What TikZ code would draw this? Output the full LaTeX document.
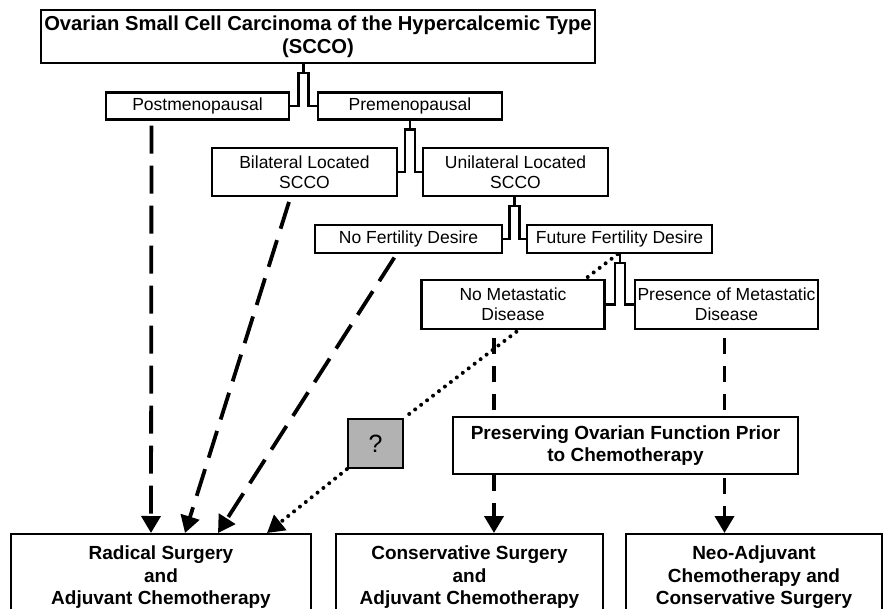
\documentclass[tikz,border=0pt]{standalone}
\usepackage{fontspec}
\setmainfont{Liberation Sans}
\usetikzlibrary{arrows.meta,calc}
\pgfdeclarelayer{bg}
\pgfsetlayers{bg,main}

\tikzset{
  box/.style={draw, line width=2.4pt, fill=white, align=center, inner sep=0pt,
    font=\fontsize{17.5}{20}\selectfont},
  boldbox/.style={box, font=\fontsize{19}{22.5}\selectfont\bfseries},
  longdash/.style={line width=3.8pt, dash pattern=on 28pt off 12pt},
  shortdash/.style={line width=3.8pt, dash pattern=on 16pt off 12pt},
  dotline/.style={line width=4pt, line cap=round, dash pattern=on 0pt off 7.5pt},
  tip/.style={-{Triangle[width=19pt,length=17pt]}},
  fork/.style={line width=2.4pt},
}

% bracket from a parent box to its two children
\newcommand{\forkto}[3]{%
  \coordinate (mid) at ($(#2.east)!0.5!(#3.west)$);
  \draw[fork] (mid |- #1.south) -- ++(0,9);
  \draw[fork] (#2.east) -| ($(mid |- #1.south)+(-5,9)$) -- ++(10,0) |- (#3.west);
}

\begin{document}
\begin{tikzpicture}[x=1pt,y=-1pt]
\useasboundingbox (0,0) rectangle (885,609);
\clip (0,0) rectangle (885,609);

% boxes
\node[box, font=\fontsize{20.2}{23}\selectfont\bfseries, minimum width=554pt, minimum height=53pt] (scco) at (318,36.5)
  {Ovarian Small Cell Carcinoma of the Hypercalcemic Type\\(SCCO)};
\node[box, minimum width=183pt, minimum height=27pt] (post) at (197.5,106) {Postmenopausal};
\node[box, minimum width=184pt, minimum height=27pt] (pre) at (410,106) {Premenopausal};
\node[box, minimum width=185pt, minimum height=48pt] (bilat) at (304.5,172) {Bilateral Located\\SCCO};
\node[box, minimum width=185pt, minimum height=48pt] (unilat) at (515.5,172) {Unilateral Located\\SCCO};
\node[box, minimum width=187pt, minimum height=28pt] (nofert) at (408.5,239) {No Fertility Desire};
\node[box, minimum width=185pt, minimum height=28pt] (futfert) at (619.5,239) {Future Fertility Desire};
\node[box, minimum width=183pt, minimum height=49pt] (nomet) at (513,304.5) {No Metastatic\\Disease};
\node[box, minimum width=183pt, minimum height=49pt] (presence) at (726.5,304.5) {Presence of Metastatic\\Disease};
\node[box, fill=black!30, minimum width=55pt, minimum height=49pt, font=\fontsize{25}{25}\selectfont] (quest) at (375.5,443.5) {?};
\node[boldbox, minimum width=345pt, minimum height=57pt] (preserve) at (625.5,445.5)
  {Preserving Ovarian Function Prior\\to Chemotherapy};
\node[boldbox, minimum width=300pt, minimum height=86pt, anchor=north] (radical) at (161,533)
  {Radical Surgery\\and\\Adjuvant Chemotherapy};
\node[boldbox, minimum width=267pt, minimum height=86pt, anchor=north] (cons) at (469.5,533)
  {Conservative Surgery\\and\\Adjuvant Chemotherapy};
\node[boldbox, minimum width=256pt, minimum height=86pt, anchor=north] (neo) at (754,533)
  {Neo-Adjuvant\\Chemotherapy and\\Conservative Surgery};

% brackets
\forkto{scco}{post}{pre}
\forkto{pre}{bilat}{unilat}
\forkto{unilat}{nofert}{futfert}
\forkto{futfert}{nomet}{presence}

% arrows
\begin{pgfonlayer}{bg}
\draw[longdash, tip, shorten <=5pt] ([xshift=-46pt]post.south) -- ([xshift=-10pt]radical.north);
\draw[longdash, tip, shorten <=5pt] ([xshift=-14pt]bilat.south) -- ([xshift=24pt]radical.north);
\draw[longdash, tip, shorten <=4pt] ([xshift=-12pt]nofert.south) -- ([xshift=57pt]radical.north);
\draw[dotline] ([xshift=-2pt]futfert.south) -- (quest.north east);
\draw[dotline, tip] (quest.south west) -- ([xshift=106pt]radical.north);
\coordinate (lane) at ([xshift=-19pt]nomet.south);
\draw[shortdash, shorten <=8pt] (lane) -- (lane |- preserve.north);
\draw[shortdash, tip] (lane |- preserve.south) -- (lane |- cons.north);
\draw[shortdash, tip, shorten <=8pt] ([xshift=-2pt]presence.south) -- ([xshift=-2pt]presence.south |- neo.north);
\end{pgfonlayer}
\end{tikzpicture}
\end{document}
